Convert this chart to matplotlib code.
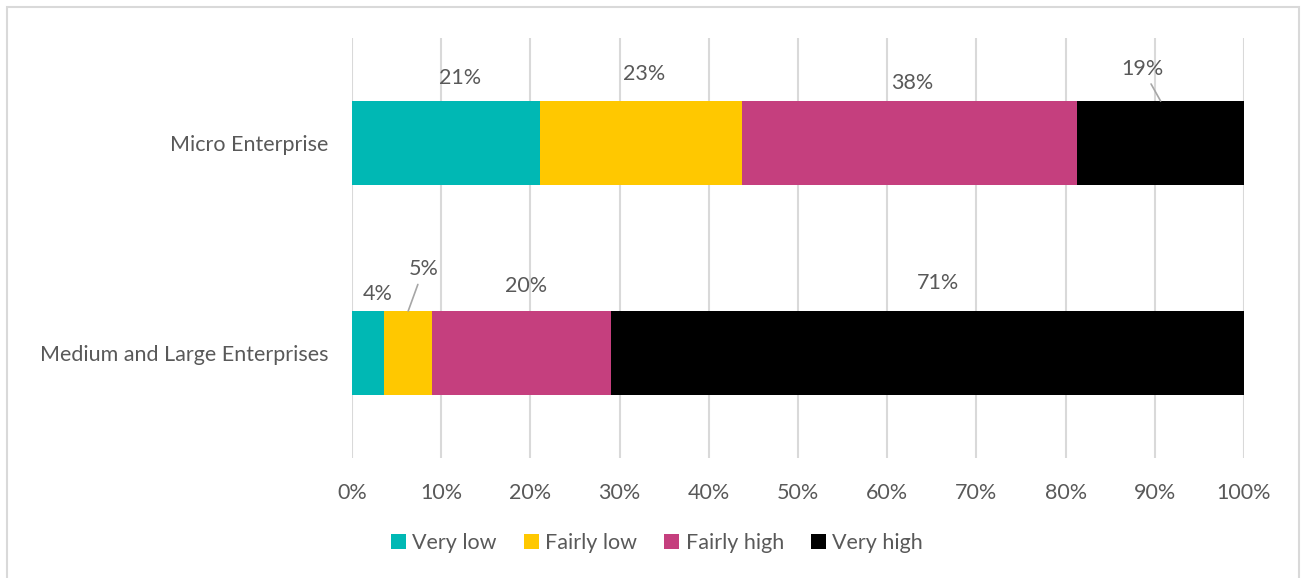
import matplotlib

matplotlib.use('Agg')
import matplotlib.pyplot as plt
from matplotlib.patches import Rectangle, Patch
from matplotlib.ticker import PercentFormatter

plt.rcParams['font.family'] = ['Lato', 'DejaVu Sans']

categories = ["Medium and Large Enterprises", "Micro Enterprise"]
levels = ["Very low", "Fairly low", "Fairly high", "Very high"]
colors = ["#00b8b4", "#ffc800", "#c53f7e", "#000000"]

# shares per level, one entry per category (medium/large first, micro second)
very_low = [3.6, 21.1]
fairly_low = [5.4, 22.6]
fairly_high = [20.0, 37.6]
very_high = [71.0, 18.7]
shares = [very_low, fairly_low, fairly_high, very_high]

# label text offsets in points (dx, dy) from the top centre of each segment
label_offsets = [
    [(7, 5), (10, 9)],
    [(11, 23), (2, 12)],
    [(3, 11), (2, 6)],
    [(8, 13), (-13, 16)],
]
leaders = {(1, 0), (3, 1)}

text_col = "#595959"
grid_col = "#d9d9d9"
fs = 15.5

fig = plt.figure(figsize=(13.01, 5.78), dpi=100)
fig.patches.append(Rectangle((7 / 1301, -0.01), 1292 / 1301, 1 - 7 / 578 + 0.01,
                             transform=fig.transFigure, fill=False,
                             edgecolor=grid_col, linewidth=1.5))

ax = fig.add_axes([352 / 1301, 1 - 458 / 578, 892 / 1301, 420 / 578])

ypos = list(range(len(categories)))
left = [0.0] * len(categories)
for lvl, vals, col, offs in zip(range(4), shares, colors, label_offsets):
    ax.barh(ypos, vals, left=left, height=0.4, color=col, label=levels[lvl], zorder=3)
    for i, v in enumerate(vals):
        cx = left[i] + v / 2
        top = ypos[i] + 0.2
        dx, dy = offs[i]
        if (lvl, i) in leaders:
            ax.annotate(f"{v:.0f}%", xy=(cx, top), xytext=(dx, dy),
                        textcoords="offset points", ha="center", va="bottom",
                        fontsize=fs, color=text_col,
                        arrowprops=dict(arrowstyle="-", color="#a6a6a6", lw=1.2,
                                        shrinkA=2, shrinkB=0))
        else:
            ax.annotate(f"{v:.0f}%", xy=(cx, top), xytext=(dx, dy),
                        textcoords="offset points", ha="center", va="bottom",
                        fontsize=fs, color=text_col)
    left = [l + v for l, v in zip(left, vals)]

ax.set_xlim(0, 100)
ax.set_ylim(-0.5, 1.5)
ax.set_xticks(range(0, 101, 10))
ax.xaxis.set_major_formatter(PercentFormatter(decimals=0))
ax.set_yticks(ypos)
ax.set_yticklabels(categories)
ax.tick_params(axis="both", length=0, labelsize=fs, labelcolor=text_col)
ax.tick_params(axis="x", pad=18)
ax.tick_params(axis="y", pad=17)
ax.grid(axis="x", color=grid_col, linewidth=1.5, zorder=0)
for s in ax.spines.values():
    s.set_visible(False)

handles = [Patch(facecolor=c, label=l) for c, l in zip(colors, levels)]
fig.legend(handles=handles, loc="center", bbox_to_anchor=(657 / 1301, 1 - 543 / 578),
           ncol=4, frameon=False, fontsize=fs, labelcolor=text_col,
           handlelength=0.7, handleheight=0.7, handletextpad=0.3, columnspacing=1.25)

fig.savefig("out.png", dpi=100, facecolor="white")
